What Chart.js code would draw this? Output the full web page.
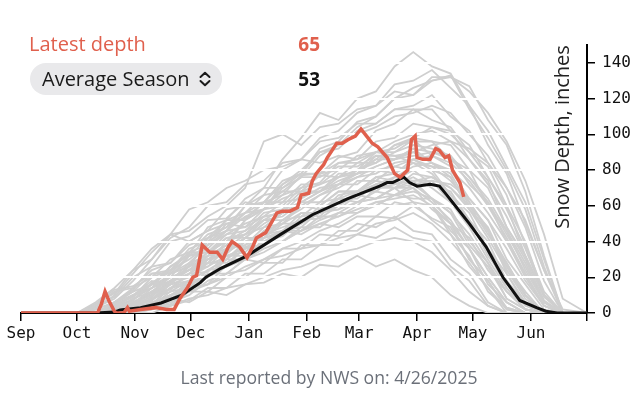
<!DOCTYPE html>
<html>
<head>
<meta charset="utf-8">
<script src="https://cdn.jsdelivr.net/npm/chart.js@4.4.1/dist/chart.umd.min.js"></script>
<style>
  body { margin: 0; background: #fff; font-family: "Open Sans", sans-serif; }
  #wrap { position: relative; width: 640px; height: 394px; overflow: hidden; }
  canvas { position: absolute; left: 0; top: 0; }
  .row { position: absolute; font-size: 20px; line-height: 26px; white-space: nowrap; }
  .val { position: absolute; font-size: 19px; line-height: 26px; font-weight: 700; text-align: right; width: 60px; }
  #pill { position: absolute; left: 30px; top: 63px; width: 192px; height: 32px; border-radius: 16px; background: #e9e9eb; }
  #footer { position: absolute; left: 0; width: 658px; top: 365px; text-align: center; font-size: 17.6px; color: #6b7079; }
</style>
</head>
<body>
<div id="wrap">
  <canvas id="chart" width="640" height="394"></canvas>
  <div class="row" style="left:29px;top:31px;color:#e0604d;">Latest depth</div>
  <div class="val" style="left:260px;top:31px;color:#e0604d;">65</div>
  <div id="pill"></div>
  <div class="row" style="left:42px;top:66px;color:#1a1a1a;">Average Season<svg width="14" height="16" viewBox="0 0 14 16" style="margin-left:8px;vertical-align:-1px"><path d="M2.5 6 L7 1.8 L11.5 6 M2.5 10 L7 14.2 L11.5 10" fill="none" stroke="#1a1a1a" stroke-width="2" stroke-linecap="round" stroke-linejoin="round"/></svg></div>
  <div class="val" style="left:260px;top:66px;color:#111;">53</div>
  <div id="footer">Last reported by NWS on: 4/26/2025</div>
</div>
<script>
// days counted from Sep 1
const monthDays = [0, 30, 61, 91, 122, 153, 181, 212, 242, 273, 303];
const monthLabels = ['Sep', 'Oct', 'Nov', 'Dec', 'Jan', 'Feb', 'Mar', 'Apr', 'May', 'Jun', ''];
const depthTicks = [0, 20, 40, 60, 80, 100, 120, 140];

// current season (red)
const latestDays = [0, 41, 43, 45, 47, 50, 51, 55, 57, 58, 64, 72, 78, 82, 85, 89, 92, 94, 97, 101, 105, 108, 111, 113, 117, 121, 124, 126, 131, 137, 140, 144, 148, 150, 154, 156, 158, 162, 164, 169, 172, 175, 179, 182, 185, 188, 191, 196, 200, 203, 207, 209, 211, 212, 215, 219, 222, 224, 227, 229, 231, 235, 237];
const latestDepth = [0, 0, 5, 12, 7, 1, 0, 0, 3, 1, 2, 3, 2, 2, 8, 14, 20, 21, 38, 34, 34, 30, 37, 40, 37, 31, 37, 42, 45, 56, 57, 57, 59, 66, 67, 74, 78, 83, 87, 95, 95, 97, 99, 103, 99, 95, 93, 87, 78, 76, 80, 97, 99, 87, 86, 86, 92, 91, 87, 88, 80, 73, 65];

// average season (black)
const avgDays = [0, 40, 50, 53, 64, 75, 86, 96, 99, 107, 121, 139, 156, 175, 192, 196, 199, 205, 208, 212, 219, 224, 228, 231, 240, 249, 258, 267, 276, 281, 287, 303];
const avgDepth = [0, 0, 0.5, 1.7, 3, 5.6, 10, 17, 20, 25, 32, 44, 55, 64, 71, 73, 73, 76, 73, 71, 72, 71, 66, 62, 50, 37, 20, 7, 3, 1, 0, 0];

// past seasons (gray), sampled every ten days
const sampleDays = [0, 30, 40, 50, 60, 70, 80, 90, 100, 110, 120, 130, 140, 150, 160, 170, 180, 190, 200, 210, 220, 230, 240, 250, 260, 270, 280, 290, 303];
const pastSeasons = [
  [0, 0, 0, 3, 10, 14, 26, 33, 48, 52, 64, 70, 86, 98, 112, 108, 120, 124, 138, 146, 138, 134, 116, 102, 82, 62, 30, 0, 0],
  [0, 0, 2, 10, 22, 34, 44, 46, 54, 60, 70, 96, 100, 94, 104, 106, 114, 116, 124, 122, 130, 133, 114, 98, 80, 58, 26, 0, 0],
  [0, 0, 0, 0, 6, 10, 22, 26, 42, 48, 60, 62, 74, 78, 90, 92, 102, 106, 114, 116, 122, 110, 102, 84, 66, 38, 12, 0, 0],
  [0, 0, 0, 3, 5, 12, 16, 27, 28, 40, 44, 54, 56, 66, 68, 78, 78, 88, 88, 90, 84, 76, 58, 46, 26, 10, 0, 0, 0],
  [0, 0, 0, 0, 3, 2, 8, 6, 12, 10, 16, 17, 22, 20, 27, 26, 32, 26, 30, 24, 20, 10, 4, 0, 0, 0, 0, 0, 0],
  [0, 0, 0, 6, 12, 22, 22, 32, 34, 44, 46, 56, 58, 68, 68, 76, 78, 86, 86, 92, 90, 88, 72, 62, 40, 22, 4, 0, 0],
  [0, 0, 0, 0, 0, 4, 7, 16, 20, 30, 30, 40, 43, 52, 53, 60, 60, 70, 70, 72, 64, 56, 38, 26, 8, 2, 0, 0, 0],
  [0, 0, 4, 9, 20, 26, 40, 43, 52, 53, 62, 60, 68, 68, 77, 76, 84, 84, 94, 96, 96, 86, 80, 60, 46, 24, 6, 0, 0],
  [0, 0, 0, 0, 5, 7, 14, 16, 22, 22, 30, 28, 36, 36, 44, 43, 50, 48, 54, 46, 44, 30, 22, 6, 0, 0, 0, 0, 0],
  [0, 0, 0, 3, 7, 17, 23, 34, 38, 50, 53, 62, 66, 77, 78, 87, 90, 102, 106, 114, 108, 104, 90, 82, 60, 40, 10, 0, 0],
  [0, 0, 0, 0, 4, 5, 14, 18, 30, 33, 42, 42, 50, 50, 60, 60, 68, 68, 76, 74, 74, 62, 52, 32, 18, 4, 0, 0, 0],
  [0, 0, 0, 5, 9, 16, 17, 24, 26, 36, 38, 48, 50, 60, 60, 68, 68, 76, 74, 80, 72, 68, 52, 40, 18, 6, 0, 0, 0],
  [0, 0, 4, 12, 14, 24, 28, 40, 46, 58, 60, 70, 70, 78, 78, 84, 84, 90, 90, 97, 88, 82, 62, 47, 22, 6, 0, 0, 0],
  [0, 0, 0, 0, 0, 3, 4, 12, 12, 20, 20, 28, 28, 38, 38, 46, 46, 54, 53, 60, 53, 48, 30, 18, 3, 0, 0, 0, 0],
  [0, 0, 0, 4, 7, 16, 20, 32, 36, 46, 48, 58, 60, 70, 73, 84, 86, 96, 98, 106, 104, 102, 86, 74, 48, 30, 7, 0, 0],
  [0, 0, 0, 0, 3, 4, 12, 14, 24, 26, 37, 38, 46, 48, 57, 58, 66, 64, 70, 62, 60, 44, 32, 12, 3, 0, 0, 0, 0],
  [0, 0, 0, 3, 5, 14, 18, 28, 32, 42, 42, 52, 54, 62, 62, 72, 72, 80, 78, 84, 82, 80, 64, 52, 30, 16, 2, 0, 0],
  [0, 0, 0, 0, 4, 7, 18, 22, 32, 34, 42, 40, 46, 44, 50, 48, 54, 54, 62, 60, 60, 46, 36, 16, 6, 0, 0, 0, 0],
  [0, 0, 0, 0, 3, 5, 14, 18, 32, 38, 52, 58, 72, 78, 92, 96, 107, 110, 120, 122, 132, 132, 127, 108, 94, 68, 32, 0, 0],
  [0, 0, 0, 4, 9, 20, 24, 36, 40, 52, 56, 66, 68, 76, 76, 82, 82, 88, 86, 92, 84, 78, 60, 48, 26, 12, 0, 0, 0],
  [0, 0, 0, 0, 0, 3, 5, 14, 16, 27, 30, 42, 44, 54, 56, 66, 68, 76, 78, 86, 80, 76, 58, 46, 24, 10, 0, 0, 0],
  [0, 0, 0, 3, 4, 12, 13, 22, 23, 32, 32, 40, 40, 48, 48, 56, 56, 62, 60, 62, 52, 44, 26, 14, 0, 0, 0, 0, 0],
  [0, 0, 5, 11, 24, 30, 42, 48, 60, 62, 72, 74, 84, 86, 96, 98, 106, 106, 114, 114, 114, 102, 94, 76, 60, 32, 10, 0, 0],
  [0, 0, 0, 0, 5, 9, 18, 20, 28, 28, 36, 38, 46, 46, 54, 54, 60, 60, 66, 64, 64, 50, 42, 24, 12, 2, 0, 0, 0],
  [0, 0, 0, 0, 0, 0, 4, 7, 14, 14, 22, 22, 30, 30, 38, 38, 44, 42, 48, 42, 40, 26, 18, 4, 0, 0, 0, 0, 0],
  [0, 0, 0, 6, 13, 26, 28, 38, 42, 52, 52, 62, 62, 72, 72, 80, 80, 90, 92, 98, 96, 94, 80, 70, 48, 32, 9, 0, 0],
  [0, 0, 0, 0, 4, 7, 16, 18, 28, 30, 40, 42, 52, 54, 62, 64, 74, 74, 82, 80, 80, 66, 56, 36, 22, 5, 0, 0, 0],
  [0, 0, 5, 13, 15, 22, 24, 34, 34, 42, 44, 52, 52, 60, 60, 68, 68, 74, 72, 74, 64, 58, 40, 28, 8, 2, 0, 0, 0],
  [0, 0, 0, 0, 6, 11, 22, 26, 40, 46, 60, 66, 80, 86, 98, 102, 112, 116, 128, 130, 136, 126, 116, 94, 78, 50, 24, 0, 0],
  [0, 0, 0, 0, 0, 5, 9, 18, 20, 32, 34, 44, 46, 56, 56, 64, 64, 72, 70, 70, 58, 50, 30, 18, 2, 0, 0, 0, 0],
  [0, 0, 0, 2, 6, 10, 18, 24, 34, 40, 52, 58, 70, 76, 88, 94, 104, 110, 120, 126, 130, 132, 124, 112, 96, 74, 44, 8, 0],
  [0, 0, 0, 0, 4, 8, 14, 22, 28, 36, 42, 50, 56, 62, 68, 74, 78, 82, 86, 90, 94, 96, 92, 84, 70, 52, 24, 2, 0],
  [0, 0, 6, 14, 24, 36, 44, 58, 62, 70, 74, 80, 82, 86, 84, 88, 86, 90, 88, 84, 78, 66, 52, 34, 14, 2, 0, 0, 0],
  [0, 0, 0, 0, 2, 6, 8, 14, 16, 22, 24, 30, 32, 36, 38, 42, 44, 50, 52, 56, 50, 40, 28, 14, 2, 0, 0, 0, 0],
  [0, 0, 0, 4, 10, 18, 16, 26, 30, 38, 36, 46, 50, 56, 54, 64, 68, 72, 70, 78, 76, 70, 58, 42, 24, 8, 0, 0, 0],
  [0, 0, 2, 6, 14, 20, 30, 34, 44, 48, 56, 58, 66, 70, 78, 80, 88, 90, 96, 100, 102, 96, 86, 72, 54, 32, 10, 0, 0],
  [0, 0, 0, 0, 0, 2, 6, 10, 18, 22, 30, 34, 40, 46, 52, 56, 62, 64, 70, 74, 76, 70, 60, 44, 28, 10, 0, 0, 0],
  [0, 0, 0, 0, 3, 6, 10, 12, 16, 20, 26, 30, 36, 40, 46, 50, 56, 60, 66, 72, 74, 72, 64, 52, 36, 18, 4, 0, 0],
  [0, 0, 0, 5, 12, 16, 24, 30, 38, 44, 50, 54, 62, 64, 70, 72, 78, 80, 82, 86, 82, 74, 62, 46, 28, 10, 0, 0, 0],
  [0, 0, 0, 2, 8, 14, 22, 28, 38, 46, 56, 62, 72, 80, 90, 94, 100, 104, 110, 112, 116, 112, 100, 88, 70, 48, 18, 0, 0],
  [0, 0, 0, 0, 4, 8, 16, 20, 26, 32, 36, 42, 46, 52, 56, 62, 66, 70, 72, 76, 70, 62, 48, 30, 14, 2, 0, 0, 0],
  [0, 0, 3, 8, 18, 30, 44, 40, 46, 50, 48, 54, 56, 60, 58, 64, 62, 68, 66, 70, 62, 52, 36, 20, 6, 0, 0, 0, 0],
  [0, 0, 0, 0, 2, 4, 10, 14, 20, 26, 32, 38, 44, 50, 56, 60, 66, 72, 76, 82, 84, 80, 70, 56, 40, 20, 4, 0, 0],
  [0, 0, 0, 3, 8, 12, 20, 24, 32, 36, 44, 48, 56, 60, 66, 70, 76, 78, 84, 86, 88, 84, 74, 60, 42, 22, 4, 0, 0],
  [0, 0, 0, 0, 0, 2, 4, 8, 10, 14, 16, 20, 24, 26, 30, 34, 36, 40, 42, 40, 34, 24, 12, 4, 0, 0, 0, 0, 0],
  [0, 0, 0, 4, 10, 16, 26, 32, 42, 46, 54, 58, 64, 68, 72, 76, 80, 84, 90, 94, 92, 88, 76, 62, 44, 26, 6, 0, 0],
  [0, 0, 0, 0, 3, 8, 12, 18, 24, 30, 38, 44, 52, 58, 66, 72, 80, 86, 94, 98, 104, 100, 90, 76, 58, 36, 10, 0, 0],
  [0, 0, 2, 6, 10, 14, 20, 24, 30, 34, 40, 44, 48, 52, 56, 58, 62, 64, 66, 68, 64, 56, 44, 28, 12, 2, 0, 0, 0],
  [0, 0, 0, 2, 6, 12, 18, 26, 34, 40, 46, 52, 58, 62, 68, 72, 76, 82, 86, 88, 90, 86, 76, 64, 46, 28, 6, 0, 0],
  [0, 0, 0, 0, 2, 5, 10, 16, 20, 26, 30, 36, 40, 46, 50, 54, 58, 62, 64, 66, 60, 50, 36, 20, 6, 0, 0, 0, 0]
];

function toPoints(xs, ys) {
  return xs.map((x, i) => ({ x: x, y: ys[i] }));
}

const datasets = pastSeasons.map(row => ({
  data: toPoints(sampleDays, row),
  borderColor: '#cfcfcf',
  borderWidth: 1.8,
  pointRadius: 0,
  order: 3
}));
const avgIndex = datasets.length;
datasets.push({
  data: toPoints(avgDays, avgDepth),
  borderColor: '#111111',
  borderWidth: 3,
  pointRadius: 0,
  order: 2
});
datasets.push({
  data: toPoints(latestDays, latestDepth),
  borderColor: '#e0604d',
  borderWidth: 3.5,
  pointRadius: 0,
  order: 1
});

// white grid lines go over the gray seasons but under the two highlighted lines
const whiteGrid = {
  id: 'whiteGrid',
  beforeDatasetDraw(chart, args) {
    if (args.index !== avgIndex) return;
    const ctx = chart.ctx, area = chart.chartArea, y = chart.scales.y;
    ctx.save();
    ctx.strokeStyle = '#ffffff';
    ctx.lineWidth = 2;
    depthTicks.slice(1).forEach(v => {
      const py = Math.round(y.getPixelForValue(v));
      ctx.beginPath();
      ctx.moveTo(area.left, py);
      ctx.lineTo(area.right - 2, py);
      ctx.stroke();
    });
    ctx.restore();
  }
};

const axisTitle = {
  id: 'axisTitle',
  afterDraw(chart) {
    const ctx = chart.ctx;
    ctx.save();
    ctx.translate(563, 137);
    ctx.rotate(-Math.PI / 2);
    ctx.font = '20px "Open Sans"';
    ctx.fillStyle = '#222';
    ctx.textAlign = 'center';
    ctx.textBaseline = 'middle';
    ctx.fillText('Snow Depth, inches', 0, 0);
    ctx.restore();
  }
};

new Chart(document.getElementById('chart'), {
  type: 'line',
  data: { datasets: datasets },
  plugins: [whiteGrid, axisTitle],
  options: {
    responsive: false,
    animation: false,
    devicePixelRatio: 1,
    layout: { padding: { left: 21, top: 45, right: 0, bottom: 0 } },
    plugins: { legend: { display: false }, tooltip: { enabled: false } },
    elements: { line: { tension: 0 } },
    scales: {
      x: {
        type: 'linear',
        min: 0,
        max: 303,
        afterBuildTicks: s => { s.ticks = monthDays.map(v => ({ value: v })); },
        afterFit: s => { s.height = 81; },
        grid: { drawOnChartArea: false, drawTicks: true, tickLength: 8, color: '#000', lineWidth: 1.5 },
        border: { display: true, color: '#000', width: 2 },
        ticks: {
          autoSkip: false,
          maxRotation: 0,
          padding: 3,
          color: '#111',
          font: { family: '"DejaVu Sans Mono"', size: 16 },
          callback: v => monthLabels[monthDays.indexOf(v)]
        }
      },
      y: {
        position: 'right',
        min: 0,
        max: 150,
        afterBuildTicks: s => { s.ticks = depthTicks.map(v => ({ value: v })); },
        afterFit: s => { s.width = 53; },
        grid: { drawOnChartArea: false, drawTicks: true, tickLength: 8, color: '#000', lineWidth: 1.5 },
        border: { display: true, color: '#000', width: 2 },
        ticks: {
          padding: 7,
          color: '#111',
          font: { family: '"DejaVu Sans Mono"', size: 16 }
        }
      }
    }
  }
});
</script>
</body>
</html>
